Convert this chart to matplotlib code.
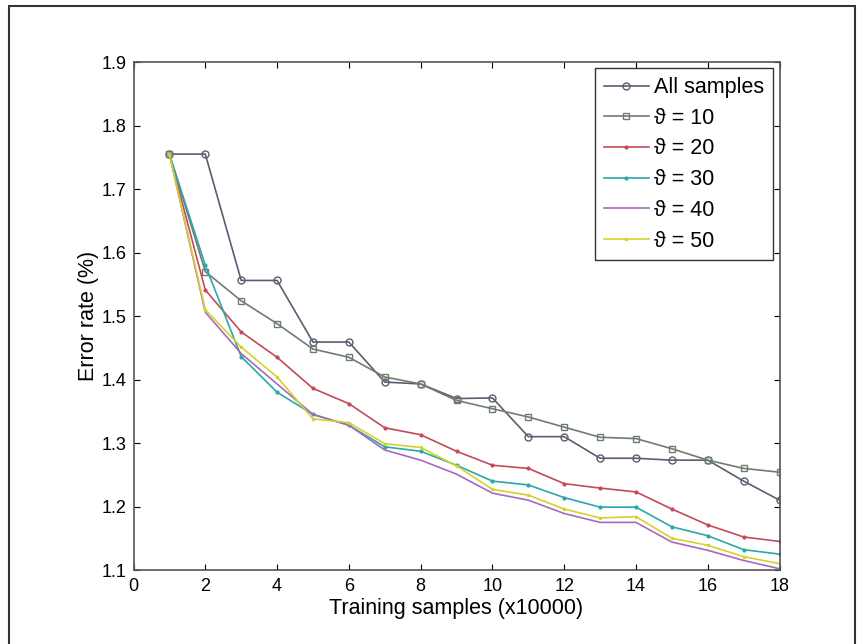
import matplotlib
matplotlib.use('Agg')
import matplotlib.pyplot as plt
from matplotlib.patches import Rectangle

plt.rcParams['font.family'] = ['Liberation Sans', 'DejaVu Sans']

x = list(range(1, 19))
all_samples = [1.755, 1.755, 1.556, 1.556, 1.459, 1.459, 1.396, 1.393, 1.370, 1.371,
               1.310, 1.310, 1.276, 1.276, 1.273, 1.273, 1.240, 1.210]
theta10 = [1.755, 1.570, 1.524, 1.488, 1.448, 1.435, 1.404, 1.393, 1.367, 1.354,
           1.341, 1.325, 1.309, 1.307, 1.291, 1.273, 1.260, 1.254]
theta20 = [1.755, 1.541, 1.475, 1.435, 1.386, 1.362, 1.324, 1.313, 1.287, 1.265,
           1.260, 1.236, 1.229, 1.223, 1.196, 1.171, 1.152, 1.145]
theta30 = [1.755, 1.580, 1.436, 1.380, 1.345, 1.328, 1.294, 1.287, 1.265, 1.240,
           1.234, 1.214, 1.199, 1.199, 1.168, 1.154, 1.132, 1.125]
theta40 = [1.755, 1.506, 1.441, 1.393, 1.345, 1.328, 1.289, 1.273, 1.251, 1.221,
           1.210, 1.189, 1.175, 1.175, 1.144, 1.131, 1.115, 1.102]
theta50 = [1.755, 1.510, 1.451, 1.404, 1.338, 1.332, 1.299, 1.293, 1.264, 1.227,
           1.218, 1.196, 1.182, 1.184, 1.150, 1.139, 1.121, 1.110]

series = [
    ('All samples', all_samples, '#5c5c72', 'o', 5),
    ('\u03d1 = 10', theta10, '#6f7d70', 's', 5),
    ('\u03d1 = 20', theta20, '#c44a5a', '.', 4),
    ('\u03d1 = 30', theta30, '#2aa8a8', '.', 4),
    ('\u03d1 = 40', theta40, '#a868c0', '', 0),
    ('\u03d1 = 50', theta50, '#d4d22a', '.', 3),
]

fig = plt.figure(figsize=(8.63, 6.44), dpi=100)
ax = fig.add_axes([0.1547, 0.1149, 0.7486, 0.7888])

for label, vals, color, marker, ms in series:
    ax.plot(x, vals, color=color, marker=marker, markersize=ms,
            markerfacecolor='none' if marker in ('o', 's') else color,
            linewidth=1.2, label=label)

ax.set_xlim(0, 18)
ax.set_ylim(1.1, 1.9)
ax.set_xticks(range(0, 19, 2))
ax.set_yticks([1.1, 1.2, 1.3, 1.4, 1.5, 1.6, 1.7, 1.8, 1.9])
ax.tick_params(direction='in', top=True, right=True, labelsize=13, length=4)
ax.tick_params(axis='x', pad=6)
ax.tick_params(axis='y', pad=5)
for s in ax.spines.values():
    s.set_color('#555555')
    s.set_linewidth(1.2)
ax.set_xlabel('Training samples (x10000)', fontsize=15.5, labelpad=2)
ax.set_ylabel('Error rate (%)', fontsize=15.5, labelpad=2)

leg = ax.legend(loc='upper right', fontsize=15.5, frameon=True, fancybox=False,
                edgecolor='#333333', framealpha=1, handlelength=2.1,
                borderpad=0.4, labelspacing=0.45, handletextpad=0.25,
                borderaxespad=0.3)
leg.get_frame().set_linewidth(1.0)

fig.patches.append(Rectangle((9 / 863, -0.05), 846 / 863, 1 - 6 / 644 + 0.05,
                             transform=fig.transFigure, fill=False,
                             edgecolor='#333333', linewidth=1.5))

fig.savefig('out.png', dpi=100)
